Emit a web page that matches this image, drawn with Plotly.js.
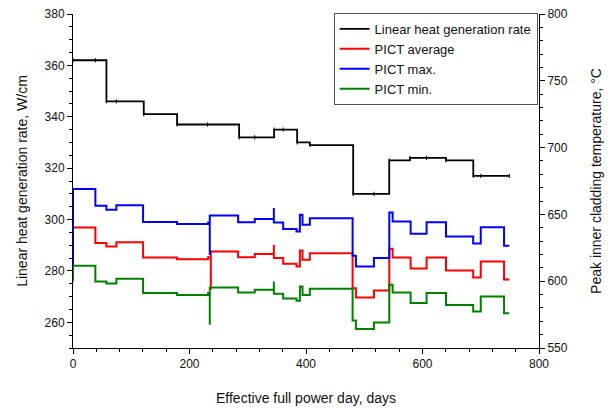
<!DOCTYPE html>
<html>
<head>
<meta charset="utf-8">
<script src="https://cdn.plot.ly/plotly-3.0.1.min.js"></script>
<style>html,body{margin:0;padding:0;background:#fff;}#chart{width:615px;height:408px;}</style>
</head>
<body>
<div id="chart"></div>
<script>
// Linear heat generation rate (left axis, W/cm)
const lhgrDays = [0, 38.4, 57.4, 74.5, 121.5, 178.7, 231, 285.2, 312, 345.3, 360.8, 384.8, 406.6, 481, 516.6, 542.9, 578.4, 607, 640.3, 687.2, 700, 749];
const lhgrVals = [362, 362, 346, 346, 341, 337, 337, 332, 332, 335, 335, 330, 329, 310, 310, 323, 324, 324, 323, 317, 317, 317];

// PICT max (right axis, °C)
const maxDays = [0, 0, 38.4, 57.3, 74.5, 120.3, 178.7, 232, 234.8, 234.8, 283.5, 312, 344.8, 344.8, 360.8, 383.7, 389.5, 394, 406.6, 480, 485.7, 516.6, 543, 548.7, 579.6, 607, 640.3, 687, 700, 740, 749];
const maxVals = [611, 669, 656.4, 653.4, 656.9, 644.4, 642.9, 644, 619.7, 649.1, 644.2, 646.5, 654.7, 643.9, 639, 637.2, 649.7, 642.2, 647.2, 619, 611, 617.3, 651.4, 644.7, 635.5, 644.2, 633.4, 628.2, 640.4, 626.5, 626.5];

// PICT average (right axis, °C)
const avgDays = [0, 0, 38.4, 57.3, 74.5, 120.3, 178.7, 232, 236.6, 236.6, 283.5, 312, 344.8, 344.8, 360.8, 383.7, 389.5, 394, 406.6, 480, 485.7, 516.6, 543, 548.7, 579.6, 607, 640.3, 687, 700, 740, 749];
const avgVals = [605, 640.2, 628.5, 626, 629.2, 617.7, 616.5, 618, 593.6, 622.2, 618, 620.3, 627.2, 617.3, 613, 611, 623, 616, 621, 594.8, 587.8, 593, 624.2, 617.7, 609.5, 617.7, 608, 602.8, 614.7, 601.3, 601.3];

// PICT min (right axis, °C)
const minDays = [0, 0, 38.4, 57.3, 74.5, 120.3, 178.7, 232, 234.8, 234.8, 283.5, 312, 344.8, 344.8, 360.8, 383.7, 389.5, 394, 406.6, 480, 485.7, 516.6, 543, 548.7, 579.6, 607, 640.3, 687, 700, 740, 749];
const minVals = [599.8, 611.5, 599.8, 598.3, 601.8, 591.1, 589.6, 591.1, 567.4, 595.3, 591.6, 593.6, 599.8, 590.6, 587, 585.3, 596, 589.6, 594.3, 570.6, 564.2, 569.1, 597.3, 591.6, 583.6, 591.1, 582.1, 577.3, 588.6, 576.1, 576.1];

const seriesNames = ["Linear heat generation rate", "PICT average", "PICT max.", "PICT min."];

const traces = [
  {x: lhgrDays, y: lhgrVals, name: seriesNames[0], type: 'scatter', mode: 'lines', yaxis: 'y',
   line: {color: '#000000', width: 1.8, shape: 'hv'}},
  {x: avgDays, y: avgVals, name: seriesNames[1], type: 'scatter', mode: 'lines', yaxis: 'y2',
   line: {color: '#ff0000', width: 2, shape: 'hv'}},
  {x: maxDays, y: maxVals, name: seriesNames[2], type: 'scatter', mode: 'lines', yaxis: 'y2',
   line: {color: '#0000ff', width: 2, shape: 'hv'}},
  {x: minDays, y: minVals, name: seriesNames[3], type: 'scatter', mode: 'lines', yaxis: 'y2',
   line: {color: '#008000', width: 2, shape: 'hv'}},
  {x: lhgrDays, y: lhgrVals, name: seriesNames[0], type: 'scatter', mode: 'markers', yaxis: 'y',
   showlegend: false,
   marker: {symbol: 'line-ns', size: 3, line: {color: '#000000', width: 1}}}
];

const ff = 'Arial, "Liberation Sans", sans-serif';
const font = {family: ff, size: 12, color: '#111'};

const layout = {
  width: 615, height: 408,
  margin: {l: 73, r: 76, t: 14, b: 60, pad: 0},
  paper_bgcolor: '#fff', plot_bgcolor: '#fff',
  font: font,
  showlegend: true,
  legend: {x: 0.997, xanchor: 'right', y: 1.003, yanchor: 'top', bgcolor: '#fff',
           bordercolor: '#555', borderwidth: 1, font: {family: ff, size: 13, color: '#111'},
           tracegroupgap: 0},
  xaxis: {range: [0, 800], dtick: 200, tick0: 0, showgrid: false, zeroline: false,
          showline: true, linecolor: '#000', linewidth: 1,
          ticks: 'outside', ticklen: 5, tickcolor: '#000',
          minor: {dtick: 40, ticks: 'outside', ticklen: 3, tickcolor: '#000', showgrid: false},
          title: {text: 'Effective full power day, days', font: {family: ff, size: 14, color: '#111'}, standoff: 22}},
  yaxis: {range: [250, 380], dtick: 20, tick0: 0, showgrid: false, zeroline: false,
          showline: true, linecolor: '#000', linewidth: 1,
          ticks: 'outside', ticklen: 5, tickcolor: '#000',
          minor: {dtick: 5, ticks: 'outside', ticklen: 3, tickcolor: '#000', showgrid: false},
          title: {text: 'Linear heat generation rate, W/cm', font: {family: ff, size: 14, color: '#111'}, standoff: 13}},
  yaxis2: {range: [550, 800], dtick: 50, tick0: 0, overlaying: 'y', side: 'right',
           showgrid: false, zeroline: false, showline: true, linecolor: '#000', linewidth: 1,
           ticks: 'outside', ticklen: 5, tickcolor: '#000',
           minor: {dtick: 10, ticks: 'outside', ticklen: 3, tickcolor: '#000', showgrid: false},
           title: {text: 'Peak inner cladding temperature, °C', font: {family: ff, size: 14, color: '#111'}, standoff: 24}}
};

Plotly.newPlot('chart', traces, layout, {displayModeBar: false, staticPlot: true});
</script>
</body>
</html>
